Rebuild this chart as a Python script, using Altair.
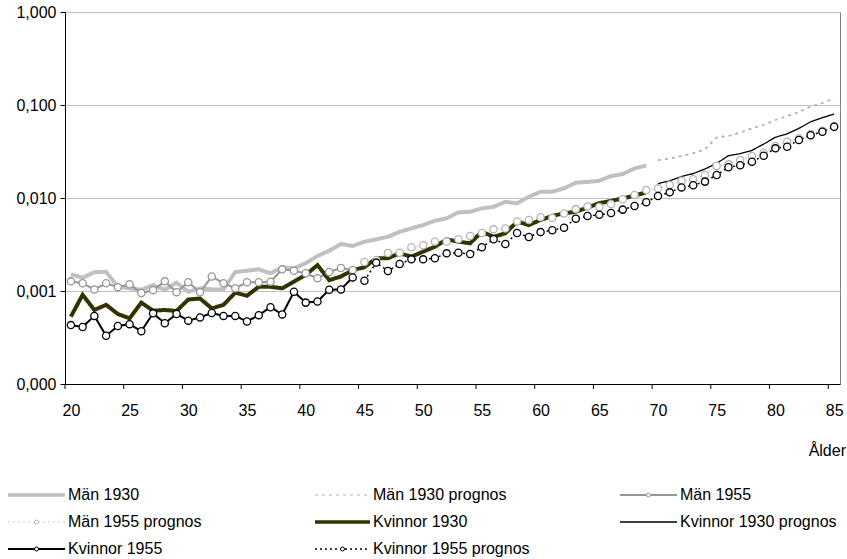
import altair as alt
import pandas as pd

FONT = "Liberation Sans"
FS = 16

ages_a = list(range(20, 70))   # 20..69
ages_b = list(range(70, 86))   # 70..85
ages_c = list(range(20, 45))   # 20..44
ages_d = list(range(45, 86))   # 45..85

man_1930 = [0.00151, 0.00139, 0.00159, 0.00161, 0.00111, 0.00107, 0.00103, 0.00116, 0.00103, 0.00123,
            0.00098, 0.00107, 0.00104, 0.00104, 0.00160, 0.00165, 0.00171, 0.00155, 0.00180, 0.00175,
            0.00199, 0.00238, 0.00271, 0.00320, 0.00305, 0.00339, 0.00359, 0.00383, 0.00433, 0.00472,
            0.00512, 0.00570, 0.00605, 0.00700, 0.00711, 0.00773, 0.00803, 0.00910, 0.00875, 0.0103,
            0.0117, 0.0117, 0.0127, 0.0146, 0.0149, 0.0153, 0.0172, 0.0181, 0.0208, 0.0224]
man_1930_p = [0.0255, 0.0265, 0.0283, 0.0303, 0.0334, 0.0450, 0.0464, 0.0505, 0.0560, 0.0610,
              0.0690, 0.0760, 0.0840, 0.0960, 0.105, 0.118]
man_1955 = [0.00127, 0.00121, 0.00104, 0.00121, 0.00110, 0.00118, 0.00095, 0.00102, 0.00127, 0.00097,
            0.00124, 0.00097, 0.00143, 0.00121, 0.00107, 0.00124, 0.00124, 0.00126, 0.00171, 0.00165,
            0.00155, 0.00137, 0.00160, 0.00177, 0.00168]
man_1955_p = [0.00205, 0.00216, 0.00256, 0.00258, 0.00295, 0.0031, 0.0034, 0.0034, 0.0036, 0.0039,
              0.0042, 0.0046, 0.0047, 0.0056, 0.0058, 0.0062, 0.0061, 0.0068, 0.0076, 0.0081,
              0.0080, 0.0086, 0.0097, 0.0108, 0.0122, 0.0127, 0.0138, 0.0153, 0.0159, 0.0177,
              0.0221, 0.0230, 0.0256, 0.0283, 0.0307, 0.0362, 0.0403, 0.0439, 0.0488, 0.0529, 0.0594]
kv_1930 = [0.00053, 0.00091, 0.000625, 0.00071, 0.000566, 0.000508, 0.00075, 0.000614, 0.000625, 0.00061,
           0.00081, 0.00083, 0.00065, 0.00071, 0.00096, 0.00089, 0.00111, 0.00111, 0.00107, 0.00126,
           0.00149, 0.0019, 0.00131, 0.00143, 0.00168, 0.0018, 0.00225, 0.00225, 0.00254, 0.00234,
           0.00265, 0.00299, 0.00359, 0.00339, 0.00326, 0.00433, 0.00383, 0.00417, 0.00557, 0.00512,
           0.0058, 0.00641, 0.00685, 0.00711, 0.0079, 0.0088, 0.0093, 0.0099, 0.0106, 0.0115]
kv_1930_p = [0.0143, 0.0153, 0.0170, 0.0183, 0.0205, 0.0236, 0.0285, 0.0300, 0.0325, 0.0380,
             0.0450, 0.0490, 0.0560, 0.0660, 0.0730, 0.0800]
kv_1955 = [0.00043, 0.00041, 0.00054, 0.00033, 0.00042, 0.00044, 0.00037, 0.000575, 0.00045, 0.000566,
           0.00048, 0.00052, 0.00058, 0.00054, 0.00054, 0.00047, 0.00055, 0.00067, 0.00056, 0.00098,
           0.00075, 0.00077, 0.00103, 0.00104, 0.00140]
kv_1955_p = [0.00129, 0.00202, 0.00164, 0.00195, 0.00219, 0.00219, 0.00225, 0.00254, 0.00258, 0.0025,
             0.00295, 0.0036, 0.0032, 0.0042, 0.0038, 0.0043, 0.0045, 0.0048, 0.0060, 0.0064,
             0.0066, 0.0069, 0.0075, 0.0082, 0.0090, 0.0105, 0.0115, 0.0130, 0.0137, 0.0150,
             0.0177, 0.0214, 0.0225, 0.0246, 0.0285, 0.0342, 0.0356, 0.0421, 0.0472, 0.0516, 0.0584]

x_label_values = [20, 25, 30, 35, 40, 45, 50, 55, 60, 65, 70, 75, 80, 85]
x_tick_values = [19.5, 24.5, 29.5, 34.5, 39.5, 44.5, 49.5, 54.5, 59.5, 64.5, 69.5, 74.5, 79.5, 84.5]
y_tick_values = [0.0001, 0.001, 0.01, 0.1, 1.0]

# name, ages, values, color, width, dash, marker color (None = no marker), legend width
series = [
    ("Män 1930", ages_a, man_1930, "#c0c0c0", 4, [1, 0], None, 3.5),
    ("Män 1930 prognos", ages_b, man_1930_p, "#b2b2b2", 1.8, [3, 4], None, 1.2),
    ("Män 1955", ages_c, man_1955, "#969696", 2, [1, 0], "#969696", 2),
    ("Män 1955 prognos", ages_d, man_1955_p, "#c8c8c8", 1, [2, 3], "#b4b4b4", 1),
    ("Kvinnor 1930", ages_a, kv_1930, "#333300", 4, [1, 0], None, 3.5),
    ("Kvinnor 1930 prognos", ages_b, kv_1930_p, "#000000", 1.3, [1, 0], None, 1.3),
    ("Kvinnor 1955", ages_c, kv_1955, "#000000", 2, [1, 0], "#000000", 2),
    ("Kvinnor 1955 prognos", ages_d, kv_1955_p, "#000000", 1.5, [2, 3], "#000000", 1.5),
]

x_scale = alt.Scale(domain=[19.5, 85.5], nice=False, zero=False)
y_scale = alt.Scale(type="log", domain=[0.0001, 1.0], nice=False)

x_axis = alt.Axis(
    values=x_label_values, format="d",
    labelFlush=False, labelOverlap=False,
    ticks=False, domainColor="#000000",
    labelFont=FONT, labelFontSize=FS, labelColor="#000000", labelPadding=18,
    grid=False, title=None,
)
y_axis = alt.Axis(
    values=y_tick_values,
    labelExpr="replace(format(datum.value, '.3f'), '.', ',')",
    tickSize=5, tickColor="#000000", domainColor="#000000",
    labelFont=FONT, labelFontSize=FS, labelColor="#000000", labelPadding=4,
    grid=True, gridColor="#c0c0c0", gridWidth=1, title=None,
)


def X(field):
    return alt.X(field, scale=x_scale, axis=x_axis)


def Y(field):
    return alt.Y(field, scale=y_scale, axis=y_axis)


layers = []
frames = {}
for s in series:
    name, ages, vals = s[0], s[1], s[2]
    frames[name] = pd.DataFrame({"age": ages, "value": vals, "series": name})

# all lines first (Excel-style), then markers on top
for name, ages, vals, color, width, dash, mcol, lw in series:
    layers.append(
        alt.Chart(frames[name]).mark_line(color=color, strokeWidth=width, strokeDash=dash)
        .encode(x=X("age:Q"), y=Y("value:Q"))
    )

for name, ages, vals, color, width, dash, mcol, lw in series:
    if mcol is None:
        continue
    layers.append(
        alt.Chart(frames[name]).mark_point(shape="circle", filled=True, fill="#ffffff",
                                           stroke=mcol, strokeWidth=1.3, size=52, opacity=1)
        .encode(x=X("age:Q"), y=Y("value:Q"))
    )

# category-boundary tick marks on the x axis
layers.append(
    alt.Chart(pd.DataFrame({"age": x_tick_values})).mark_rule(color="#000000", strokeWidth=1)
    .encode(x=X("age:Q"), y=alt.value(372), y2=alt.value(377))
)

# axis title "Ålder"
layers.append(
    alt.Chart(pd.DataFrame({"t": ["Ålder"]})).mark_text(
        align="right", baseline="middle", font=FONT, fontSize=FS, color="#000000"
    ).encode(x=alt.value(781), y=alt.value(439), text="t:N")
)

# legend (3 columns)
col_line = [(-57, 0), (250, 305), (555, 612)]
row_y = [483, 510, 537]
for i, (name, ages, vals, color, width, dash, mcol, lw) in enumerate(series):
    r, c = divmod(i, 3)
    x1, x2 = col_line[c]
    y = row_y[r]
    ld = pd.DataFrame({"name": [name], "x1": [x1], "x2": [x2], "xm": [(x1 + x2) / 2],
                       "tx": [x2 + 3], "y": [y]})
    layers.append(
        alt.Chart(ld).mark_rule(color=color, strokeWidth=lw, strokeDash=dash)
        .encode(x=alt.X("x1:Q", scale=None), x2="x2:Q", y=alt.Y("y:Q", scale=None))
    )
    if mcol is not None:
        layers.append(
            alt.Chart(ld).mark_point(shape="circle", filled=True, fill="#ffffff",
                                     stroke=mcol, strokeWidth=1, size=16, opacity=1)
            .encode(x=alt.X("xm:Q", scale=None), y=alt.Y("y:Q", scale=None))
        )
    layers.append(
        alt.Chart(ld).mark_text(align="left", baseline="middle", font=FONT, fontSize=FS,
                                color="#000000")
        .encode(x=alt.X("tx:Q", scale=None), y=alt.Y("y:Q", scale=None), text="name:N")
    )

chart = alt.layer(*layers).properties(
    width=775, height=372,
    padding={"left": 65, "top": 12, "right": 7, "bottom": 175},
    autosize=alt.AutoSizeParams(type="none"),
    background="#ffffff",
).configure_view(stroke="#808080", strokeWidth=1)

chart.save("out.html", embed_options={"renderer": "svg", "actions": False})
